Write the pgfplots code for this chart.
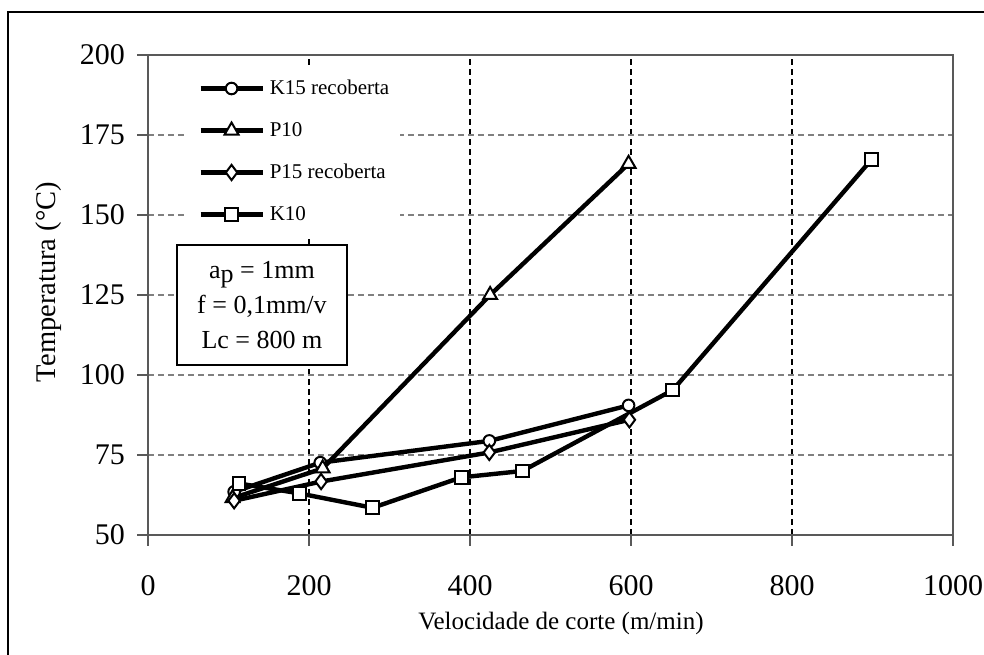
\documentclass[border=0pt]{standalone}
\usepackage{fontspec}
\setmainfont{Liberation Serif}
\usepackage{pgfplots}
\pgfplotsset{compat=1.18}
\begin{document}
\begin{tikzpicture}
\begin{axis}[
  scale only axis, width=402.5pt, height=240pt,
  xmin=0, xmax=1000, ymin=50, ymax=200,
  xtick={0,200,...,1000}, ytick={50,75,...,200},
  tick pos=left, tick align=outside, major tick length=5.5pt,
  axis line style={gray!70!black, line width=0.8pt},
  tick style={gray!70!black, line width=0.8pt},
  xmajorgrids, ymajorgrids,
  x grid style={black, line width=0.6pt, dash pattern=on 3pt off 2pt},
  y grid style={gray, line width=0.6pt, dash pattern=on 3pt off 2pt},
  /pgf/number format/assume math mode=true,
  /pgf/number format/1000 sep={},
  ticklabel style={font=\fontsize{15}{18}\selectfont},
  yticklabel style={xshift=-2.5pt},
  xticklabel style={yshift=-11pt},
  xlabel={Velocidade de corte (m/min)},
  ylabel={Temperatura (°C)},
  xlabel style={font=\fontsize{12.5}{15}\selectfont, at={(rel axis cs:0.513,-0.185)}, anchor=center},
  ylabel style={font=\fontsize{14.25}{17}\selectfont, at={(rel axis cs:-0.124,0.527)}, anchor=center},
  legend style={draw=none, fill=white, at={(rel axis cs:0.0484,0.981)}, anchor=north west,
    font=\fontsize{10.5}{12}\selectfont, row sep=11pt, column sep=2.5pt,
    inner xsep=5.5pt, inner ysep=7pt,
    nodes={inner sep=0pt, text height=8pt, text depth=2pt}},
  legend cell align=left,
  legend image code/.code={\draw[mark repeat=2, mark phase=2] plot coordinates {(0pt,0pt) (15.5pt,0pt) (31pt,0pt)};},
  every axis plot/.append style={black, line width=2.2pt, mark options={solid, fill=white, line width=1pt}},
]
\addplot[mark=*, mark size=2.9pt] coordinates {(107,63.5) (214,72.6) (424,79.4) (597,90.5)};
\addlegendentry{K15 recoberta}
\addplot[mark=triangle*, mark size=4pt] coordinates {(105,61.5) (217,70.8) (425,125) (597,166)};
\addlegendentry{P10}
\addplot[mark=diamond*, mark size=3.8pt] coordinates {(107,60.7) (215,66.7) (424,75.8) (598,86)};
\addlegendentry{P15 recoberta}
\addplot[mark=square*, mark size=3.2pt] coordinates {(113,66.1) (188,63) (279,58.5) (389,68) (465,70) (652,95.3) (899,167.4)};
\addlegendentry{K10}
\node[draw=black, line width=0.8pt, fill=white, minimum width=85pt, minimum height=60pt, align=center,
  font=\fontsize{13}{17.5}\selectfont] at (axis cs:141.6,121.9)
  {a\raisebox{-0.35ex}{p} = 1mm\\ f = 0,1mm/v\\ Lc = 800 m};
\coordinate (BL) at (rel axis cs:-0.18385,-0.25);
\coordinate (TR) at (rel axis cs:1.03851,1.11458);
\coordinate (FL) at (rel axis cs:-0.1739,-0.25);
\coordinate (FT) at (rel axis cs:-0.1739,1.0896);
\coordinate (FR) at (rel axis cs:1.03851,1.0896);
\end{axis}
\draw[line width=1pt] (FL) -- (FT) -- (FR);
\pgfresetboundingbox
\path (BL) rectangle (TR);
\end{tikzpicture}
\end{document}
